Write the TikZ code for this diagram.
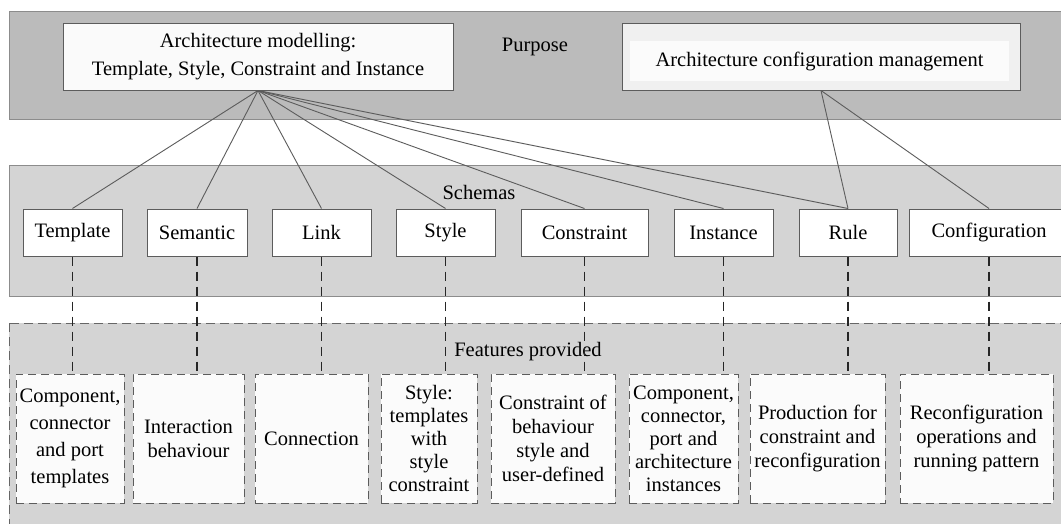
\documentclass[tikz,border=0pt]{standalone}
\usepackage{fontspec}
\setmainfont{Liberation Serif}
\definecolor{toppanel}{HTML}{BBBBBB}
\definecolor{midpanel}{HTML}{D4D4D4}
\definecolor{edge}{HTML}{5C5C5C}
\begin{document}
\begin{tikzpicture}[x=1pt,y=-1pt,font=\fontsize{20.5}{24}\selectfont,
  topbox/.style={draw=edge,line width=1pt,fill=black!6,minimum height=67pt,inner sep=0pt,align=center},
  schema/.style={draw=edge,line width=1pt,fill=white,minimum height=47pt,inner sep=0pt},
  feat/.style={draw=edge,line width=1pt,dash pattern=on 8pt off 5pt,fill=black!1.5,minimum height=129pt,inner sep=0pt,align=center},
  link/.style={draw=edge,line width=0.9pt},
  drop/.style={draw=black!85,line width=1.1pt,dash pattern=on 9pt off 6pt}]
\useasboundingbox (0,0) rectangle (1061,523);
\clip (0,0) rectangle (1061,523);
\fill[white] (0,0) rectangle (1061,523);
\draw[fill=toppanel,draw=black!45,line width=1pt] (9,11) rectangle (1080,119);
\draw[fill=midpanel,draw=black!45,line width=1pt] (9,165) rectangle (1080,296);
\draw[fill=midpanel,draw=black!60,line width=1pt,dash pattern=on 9pt off 5pt] (9,323) rectangle (1080,545);
\node (purpose) at (535,47) {Purpose};
\node (schemas) at (479,192) {Schemas};
\node (features) at (528,352) {Features provided};

\node[topbox,fill=black!2,minimum width=390pt,font=\fontsize{20.5}{28}\selectfont] (arch) at (258,56.5)
  {Architecture modelling:\\ Template, Style, Constraint and Instance};
\node[topbox,minimum width=398pt] (conf) at (821,56.5) {};
\node[fill=black!1.5,minimum width=379pt,minimum height=40pt,inner sep=0pt] (confin) at (819.5,61)
  {Architecture configuration management};

\node[schema,minimum width=99pt] (sTemplate) at (72.5,232.5) {Template};
\node[schema,minimum width=100pt] (sSemantic) at (197,232.5) {Semantic};
\node[schema,minimum width=99pt] (sLink) at (321.5,232.5) {Link};
\node[schema,minimum width=99pt] (sStyle) at (445.5,232.5) {Style};
\node[schema,minimum width=127pt] (sConstraint) at (584.5,232.5) {Constraint};
\node[schema,minimum width=99pt] (sInstance) at (723.5,232.5) {Instance};
\node[schema,minimum width=98pt] (sRule) at (848,232.5) {Rule};
\node[schema,minimum width=160pt] (sConfig) at (989,232.5) {Configuration};

\node[feat,minimum width=108pt,font=\fontsize{20.5}{27}\selectfont] (fTemplate) at (70,438.5)
  {Component,\\ connector\\ and port\\ templates};
\node[feat,minimum width=111pt] (fSemantic) at (188.5,438.5) {Interaction\\ behaviour};
\node[feat,minimum width=113pt] (fLink) at (311.5,438.5) {Connection};
\node[feat,minimum width=96pt,font=\fontsize{20.5}{23}\selectfont] (fStyle) at (429,438.5)
  {Style:\\ templates\\ with\\ style\\ constraint};
\node[feat,minimum width=124pt] (fConstraint) at (553,438.5)
  {Constraint of\\ behaviour\\ style and\\ user-defined};
\node[feat,minimum width=109pt,font=\fontsize{20.5}{23}\selectfont] (fInstance) at (683.5,438.5)
  {Component,\\ connector,\\ port and\\ architecture\\ instances};
\node[feat,minimum width=135pt] (fRule) at (817.5,438.5)
  {Production for\\ constraint and\\ reconfiguration};
\node[feat,minimum width=153pt] (fConfig) at (976.5,438.5)
  {Reconfiguration\\ operations and\\ running pattern};

\foreach \s in {sTemplate,sSemantic,sLink,sStyle,sConstraint,sInstance,sRule}
  \draw[link] (arch.south) -- (\s.north);
\draw[link] (conf.south) -- (sRule.north);
\draw[link] (conf.south) -- (sConfig.north);

\foreach \s/\f in {sTemplate/fTemplate,sSemantic/fSemantic,sLink/fLink,sStyle/fStyle,
  sConstraint/fConstraint,sInstance/fInstance,sRule/fRule,sConfig/fConfig}
  \draw[drop] (\s.south) -- (\s.south |- \f.north);
\end{tikzpicture}
\end{document}
